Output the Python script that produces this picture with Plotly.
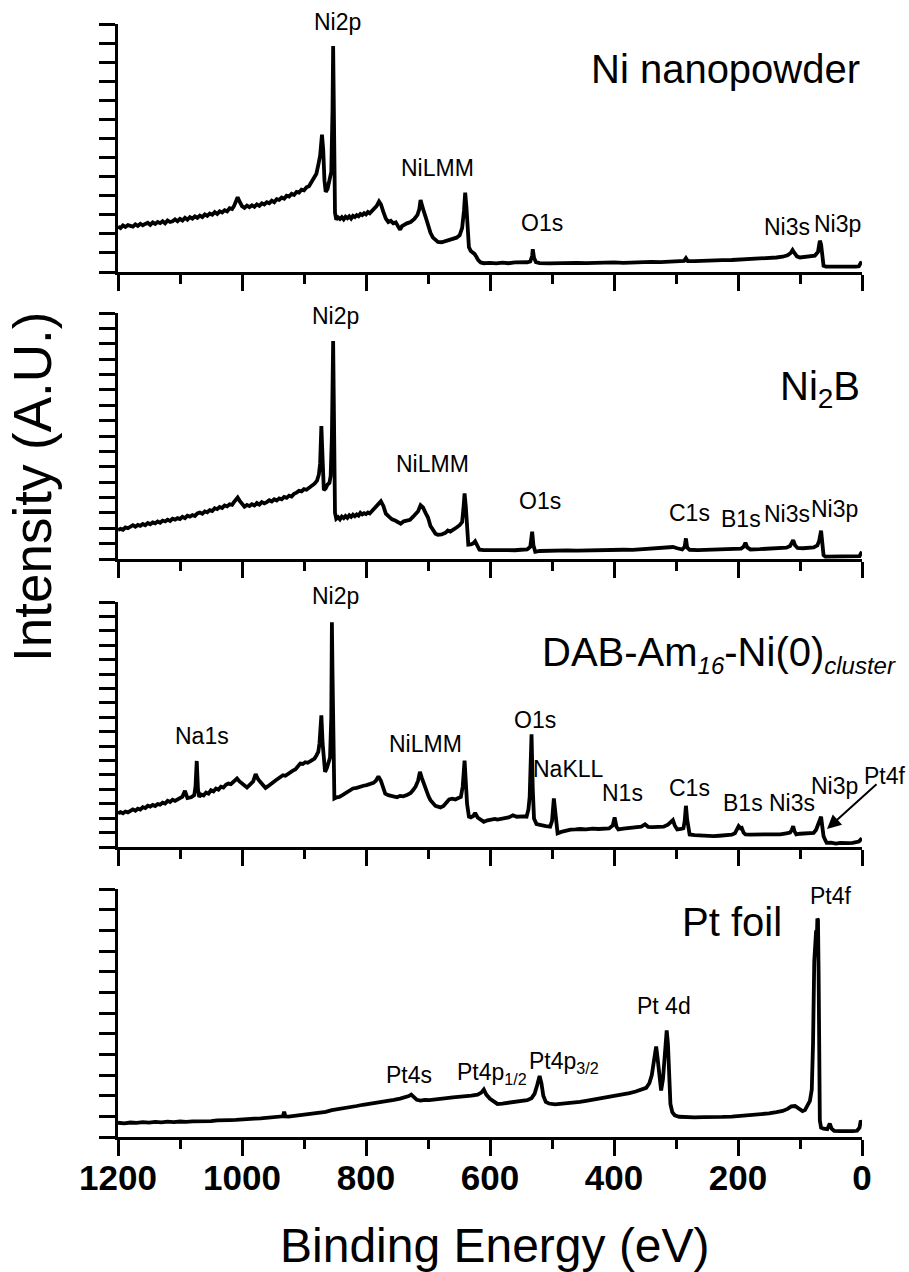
import plotly.graph_objects as go

W, H = 909, 1272
FONT = "Liberation Sans, Arial, sans-serif"

# XPS survey spectra: (binding energy in eV, intensity in arbitrary units)
ni_nanopowder = [
    (1200, 2.38), (1196, 2.30), (1192, 2.44), (1188, 2.36), (1184, 2.46), (1180, 2.40),
    (1176, 2.38), (1172, 2.50), (1168, 2.42), (1164, 2.53), (1160, 2.45), (1156, 2.52),
    (1152, 2.58), (1148, 2.47), (1144, 2.60), (1140, 2.52), (1136, 2.62), (1132, 2.56),
    (1128, 2.66), (1124, 2.55), (1120, 2.70), (1116, 2.62), (1112, 2.66), (1108, 2.76),
    (1104, 2.66), (1100, 2.78), (1096, 2.70), (1092, 2.84), (1088, 2.74), (1084, 2.88),
    (1080, 2.80), (1076, 2.92), (1072, 2.84), (1068, 2.96), (1064, 2.88), (1060, 3.02),
    (1056, 2.94), (1052, 3.06), (1048, 3.00), (1044, 3.14), (1040, 3.04), (1036, 3.18),
    (1032, 3.12), (1028, 3.24), (1024, 3.18), (1020, 3.34), (1016, 3.30), (1013, 3.45),
    (1010, 3.65), (1007, 3.92), (1004, 3.70), (1000, 3.45), (996, 3.36), (992, 3.48),
    (988, 3.40), (984, 3.50), (980, 3.42), (976, 3.55), (972, 3.47), (968, 3.60),
    (964, 3.54), (960, 3.66), (956, 3.60), (952, 3.74), (948, 3.66), (944, 3.82),
    (940, 3.78), (936, 3.90), (932, 3.84), (928, 4.00), (924, 3.96), (920, 4.10),
    (916, 4.04), (912, 4.20), (908, 4.16), (904, 4.32), (900, 4.28), (896, 4.44),
    (892, 4.50), (888, 4.70), (884, 4.90), (880, 5.15), (877, 5.60), (874, 6.10),
    (871, 7.20), (869, 6.40), (867, 4.80), (865, 4.20), (862, 4.35), (859, 4.95),
    (856, 5.25), (854, 8.50), (853, 11.85), (852, 9.00), (851, 5.00), (850, 3.10),
    (848, 2.75), (845, 2.86), (842, 2.78), (839, 2.88), (836, 2.76), (833, 2.90),
    (830, 2.82), (827, 2.92), (824, 2.80), (821, 2.94), (818, 2.88), (815, 2.98),
    (812, 2.92), (809, 3.04), (806, 2.98), (803, 3.08), (800, 3.02), (797, 3.14),
    (794, 3.08), (791, 3.20), (788, 3.25), (785, 3.38), (783, 3.45), (779, 3.70),
    (776, 3.55), (772, 3.15), (768, 2.80), (764, 2.62), (760, 2.68), (756, 2.55),
    (752, 2.60), (748, 2.38), (745, 2.22), (742, 2.40), (738, 2.50), (734, 2.55),
    (728, 2.62), (722, 2.78), (717, 3.00), (714, 3.30), (712, 3.78), (710, 3.45),
    (707, 3.20), (704, 2.90), (700, 2.40), (696, 2.05), (692, 1.80), (688, 1.66),
    (684, 1.58), (678, 1.56), (672, 1.62), (666, 1.66), (660, 1.72), (654, 1.80),
    (649, 1.92), (645, 2.30), (642, 3.20), (640, 4.16), (638, 3.40), (636, 2.20),
    (634, 1.30), (631, 1.10), (628, 1.05), (625, 0.95), (622, 0.80), (619, 0.62),
    (615, 0.50), (610, 0.46), (600, 0.48), (590, 0.45), (580, 0.49), (570, 0.46),
    (560, 0.50), (550, 0.48), (540, 0.51), (535, 0.55), (532, 0.85), (531, 1.19),
    (529, 0.75), (526, 0.52), (520, 0.47), (505, 0.45), (490, 0.47), (475, 0.45),
    (460, 0.48), (445, 0.46), (430, 0.49), (415, 0.47), (400, 0.50), (385, 0.48),
    (370, 0.51), (355, 0.50), (340, 0.53), (325, 0.52), (310, 0.55), (295, 0.54),
    (287, 0.58), (284, 0.72), (281, 0.57), (270, 0.57), (255, 0.60), (240, 0.59),
    (225, 0.62), (210, 0.63), (195, 0.65), (180, 0.67), (165, 0.70), (150, 0.72),
    (138, 0.76), (128, 0.80), (120, 0.88), (115, 1.00), (112, 1.15), (109, 1.00),
    (105, 0.82), (100, 0.76), (92, 0.78), (84, 0.80), (76, 0.86), (71, 1.05),
    (68, 1.64), (66, 1.45), (64, 0.70), (62, 0.32), (58, 0.28), (50, 0.27),
    (40, 0.28), (30, 0.27), (20, 0.28), (10, 0.28), (5, 0.30), (2, 0.48), (0, 0.50),
]

ni2b = [
    (1200, 1.88), (1196, 1.96), (1192, 1.90), (1188, 2.06), (1184, 2.00), (1180, 2.14),
    (1176, 2.20), (1172, 2.10), (1168, 2.22), (1164, 2.16), (1160, 2.28), (1156, 2.20),
    (1152, 2.34), (1148, 2.26), (1144, 2.38), (1140, 2.32), (1136, 2.44), (1132, 2.36),
    (1128, 2.50), (1124, 2.44), (1120, 2.56), (1116, 2.48), (1112, 2.62), (1108, 2.56),
    (1104, 2.66), (1100, 2.60), (1096, 2.74), (1092, 2.66), (1088, 2.82), (1084, 2.76),
    (1080, 2.86), (1076, 2.80), (1072, 2.96), (1068, 3.02), (1064, 2.94), (1060, 3.10),
    (1056, 3.04), (1052, 3.18), (1048, 3.12), (1044, 3.30), (1040, 3.24), (1036, 3.38),
    (1032, 3.32), (1028, 3.48), (1024, 3.42), (1020, 3.56), (1016, 3.52), (1013, 3.70),
    (1010, 3.85), (1007, 4.00), (1004, 3.80), (1000, 3.55), (996, 3.40), (992, 3.52),
    (988, 3.44), (984, 3.56), (980, 3.48), (976, 3.64), (972, 3.54), (968, 3.70),
    (964, 3.62), (960, 3.70), (956, 3.82), (952, 3.74), (948, 3.88), (944, 3.80),
    (940, 3.94), (936, 3.88), (932, 4.04), (928, 3.98), (924, 4.12), (920, 4.06),
    (916, 4.24), (912, 4.32), (908, 4.44), (904, 4.40), (900, 4.54), (896, 4.50),
    (892, 4.62), (888, 4.75), (883, 4.90), (879, 5.10), (876, 5.50), (874, 6.20),
    (872, 8.64), (870, 6.50), (868, 4.48), (865, 4.60), (862, 4.85), (859, 4.95),
    (857, 5.40), (855, 8.00), (853, 14.18), (852, 10.50), (851, 6.00), (850, 3.00),
    (848, 2.62), (845, 2.72), (842, 2.58), (839, 2.76), (836, 2.66), (833, 2.80),
    (830, 2.68), (827, 2.84), (824, 2.74), (821, 2.88), (818, 2.78), (815, 2.90),
    (812, 2.82), (809, 3.00), (806, 2.90), (803, 2.98), (800, 2.92), (797, 3.02),
    (794, 2.96), (790, 3.15), (785, 3.40), (780, 3.60), (776, 3.75), (772, 3.45),
    (768, 2.95), (763, 2.75), (758, 2.58), (753, 2.50), (748, 2.38), (744, 2.30),
    (739, 2.45), (734, 2.52), (729, 2.55), (724, 2.75), (720, 2.90), (716, 3.10),
    (712, 3.50), (708, 3.35), (704, 3.00), (700, 2.70), (696, 2.15), (692, 1.85),
    (688, 1.65), (684, 1.58), (678, 1.60), (672, 1.70), (668, 1.85), (664, 1.78),
    (659, 1.95), (654, 2.05), (649, 2.20), (645, 2.40), (643, 3.20), (641, 4.26),
    (639, 3.40), (637, 2.00), (635, 0.93), (631, 0.95), (627, 1.02), (624, 1.15),
    (621, 0.85), (617, 0.60), (610, 0.58), (600, 0.57), (590, 0.59), (580, 0.56),
    (570, 0.58), (560, 0.57), (550, 0.60), (540, 0.62), (535, 0.80), (532, 1.77),
    (530, 0.90), (527, 0.47), (520, 0.52), (505, 0.55), (490, 0.53), (475, 0.56),
    (460, 0.55), (445, 0.57), (430, 0.56), (415, 0.59), (400, 0.58), (385, 0.60),
    (370, 0.59), (355, 0.63), (340, 0.65), (325, 0.68), (312, 0.72), (305, 0.78),
    (298, 0.70), (290, 0.62), (286, 0.80), (284, 1.34), (282, 0.75), (278, 0.60),
    (265, 0.58), (250, 0.60), (235, 0.59), (220, 0.62), (205, 0.63), (195, 0.68),
    (191, 0.80), (188, 1.06), (185, 0.75), (180, 0.62), (165, 0.64), (150, 0.66),
    (135, 0.69), (122, 0.74), (116, 0.85), (111, 1.23), (108, 0.90), (104, 0.72),
    (95, 0.70), (85, 0.72), (78, 0.75), (72, 0.88), (69, 1.20), (66, 1.84),
    (64, 1.20), (62, 0.25), (59, 0.15), (50, 0.15), (40, 0.16), (30, 0.15),
    (20, 0.16), (10, 0.16), (4, 0.18), (2, 0.35), (0, 0.47),
]

dab_am16_ni = [
    (1200, 2.33), (1196, 2.42), (1192, 2.34), (1188, 2.46), (1184, 2.40), (1180, 2.54),
    (1176, 2.61), (1172, 2.52), (1168, 2.66), (1164, 2.60), (1160, 2.76), (1156, 2.70),
    (1152, 2.86), (1148, 2.80), (1144, 2.92), (1140, 2.84), (1136, 2.98), (1132, 2.94),
    (1128, 3.08), (1124, 3.02), (1120, 3.20), (1116, 3.12), (1112, 3.28), (1108, 3.20),
    (1104, 3.30), (1100, 3.37), (1096, 3.50), (1092, 3.90), (1088, 3.40), (1082, 3.45),
    (1077, 3.60), (1075, 4.20), (1073, 5.97), (1071, 4.00), (1069, 3.48), (1066, 3.64),
    (1062, 3.58), (1058, 3.78), (1054, 3.70), (1050, 3.94), (1046, 3.86), (1042, 4.06),
    (1038, 3.98), (1034, 4.18), (1030, 4.12), (1026, 4.32), (1022, 4.40), (1018, 4.36),
    (1014, 4.52), (1011, 4.60), (1008, 4.75), (1004, 4.55), (1000, 4.40), (996, 4.22),
    (992, 4.13), (988, 4.30), (985, 4.40), (982, 4.55), (978, 5.06), (974, 4.70),
    (970, 4.50), (966, 4.34), (962, 4.10), (958, 4.22), (954, 4.38), (950, 4.50),
    (946, 4.62), (942, 4.74), (938, 4.86), (934, 4.98), (930, 4.94), (926, 5.08),
    (922, 5.15), (918, 5.30), (914, 5.38), (910, 5.55), (906, 5.79), (902, 5.76),
    (898, 5.88), (894, 5.84), (890, 5.98), (886, 6.04), (883, 6.14), (880, 6.35),
    (877, 6.60), (875, 7.20), (872, 9.13), (870, 7.20), (868, 5.80), (866, 5.21),
    (863, 5.50), (860, 5.95), (858, 6.20), (856, 9.00), (855, 15.60), (854, 12.00),
    (853, 7.00), (852, 4.50), (851, 3.37), (847, 3.45), (843, 3.48), (838, 3.60),
    (832, 3.78), (826, 3.90), (821, 4.06), (815, 4.10), (810, 4.20), (804, 4.25),
    (799, 4.29), (794, 4.35), (788, 4.45), (784, 4.60), (780, 4.90), (776, 4.60),
    (772, 4.10), (769, 3.70), (764, 3.60), (760, 3.55), (756, 3.50), (750, 3.45),
    (745, 3.55), (740, 3.52), (734, 3.60), (728, 3.75), (724, 3.95), (720, 4.20),
    (716, 4.60), (713, 5.21), (710, 4.80), (707, 4.40), (703, 3.90), (699, 3.50),
    (696, 3.25), (692, 3.00), (688, 2.85), (684, 2.80), (680, 2.75), (675, 2.85),
    (670, 3.05), (666, 3.30), (661, 3.35), (656, 3.30), (651, 3.40), (647, 3.48),
    (644, 4.20), (641, 6.00), (639, 4.50), (637, 3.00), (634, 2.10), (631, 2.05),
    (627, 2.15), (624, 2.37), (620, 2.05), (616, 1.90), (610, 1.75), (604, 1.85),
    (598, 1.90), (592, 1.95), (588, 1.90), (582, 1.98), (576, 2.00), (570, 2.05),
    (563, 2.20), (557, 2.10), (550, 2.15), (545, 2.12), (541, 2.10), (538, 2.60),
    (536, 3.50), (533, 7.82), (531, 4.00), (529, 1.98), (525, 1.59), (518, 1.50),
    (510, 1.45), (503, 1.41), (500, 1.80), (497, 3.37), (494, 2.00), (491, 0.95),
    (485, 1.05), (478, 1.15), (470, 1.20), (462, 1.22), (455, 1.25), (445, 1.22),
    (435, 1.28), (425, 1.25), (415, 1.30), (408, 1.29), (402, 1.50), (399, 2.05),
    (396, 1.40), (393, 1.22), (385, 1.28), (375, 1.32), (368, 1.35), (363, 1.36),
    (356, 1.42), (350, 1.57), (345, 1.40), (338, 1.38), (330, 1.40), (320, 1.41),
    (313, 1.55), (308, 1.70), (305, 1.87), (302, 1.50), (298, 1.22), (292, 1.25),
    (288, 1.30), (286, 1.80), (284, 2.86), (282, 1.90), (280, 1.10), (278, 0.87),
    (270, 0.82), (260, 0.78), (250, 0.80), (240, 0.75), (230, 0.78), (220, 0.80),
    (210, 0.85), (205, 0.95), (201, 1.25), (199, 1.45), (196, 1.30), (194, 1.33),
    (191, 1.00), (188, 0.88), (180, 0.86), (170, 0.88), (160, 0.85), (150, 0.88),
    (140, 0.87), (132, 0.87), (122, 0.95), (116, 1.00), (113, 1.20), (111, 1.45),
    (109, 1.10), (106, 0.87), (100, 0.92), (92, 0.95), (85, 0.96), (78, 0.98),
    (74, 1.20), (70, 1.68), (66, 2.10), (64, 1.40), (62, 0.75), (59, 0.45),
    (57, 0.29), (50, 0.30), (42, 0.24), (35, 0.28), (28, 0.24), (22, 0.27),
    (15, 0.28), (10, 0.33), (5, 0.38), (2, 0.52), (0, 0.59),
]

pt_foil = [
    (1200, 0.69), (1190, 0.66), (1180, 0.70), (1170, 0.68), (1160, 0.72), (1150, 0.70),
    (1140, 0.73), (1130, 0.71), (1120, 0.74), (1110, 0.72), (1100, 0.75), (1090, 0.73),
    (1080, 0.76), (1070, 0.75), (1060, 0.78), (1050, 0.77), (1040, 0.80), (1030, 0.79),
    (1020, 0.82), (1010, 0.83), (1000, 0.86), (990, 0.86), (980, 0.89), (970, 0.90),
    (960, 0.93), (950, 0.94), (940, 0.97), (934, 1.00), (932, 1.22), (930, 1.00),
    (925, 0.99), (915, 1.03), (905, 1.06), (895, 1.09), (885, 1.12), (875, 1.18),
    (865, 1.22), (855, 1.30), (845, 1.34), (835, 1.40), (825, 1.45), (815, 1.50),
    (805, 1.56), (795, 1.60), (785, 1.66), (775, 1.70), (765, 1.74), (755, 1.80),
    (745, 1.86), (738, 1.90), (731, 1.98), (727, 2.05), (723, 1.96), (718, 1.80),
    (712, 1.76), (705, 1.80), (698, 1.78), (690, 1.82), (680, 1.85), (670, 1.88),
    (660, 1.92), (650, 1.94), (640, 1.98), (630, 2.00), (620, 2.05), (614, 2.15),
    (610, 2.30), (606, 2.05), (600, 1.85), (594, 1.70), (588, 1.60), (580, 1.62),
    (570, 1.65), (560, 1.68), (550, 1.72), (540, 1.78), (533, 1.88), (528, 2.10),
    (524, 2.50), (520, 2.95), (517, 2.60), (514, 2.00), (510, 1.70), (505, 1.62),
    (495, 1.58), (485, 1.60), (475, 1.62), (465, 1.66), (455, 1.70), (445, 1.75),
    (435, 1.80), (425, 1.86), (415, 1.92), (405, 1.96), (395, 2.02), (385, 2.06),
    (375, 2.12), (365, 2.20), (355, 2.28), (348, 2.38), (343, 2.60), (339, 3.00),
    (335, 3.80), (332, 4.38), (330, 3.90), (327, 2.80), (324, 2.25), (321, 2.80),
    (318, 4.20), (315, 5.16), (313, 4.50), (311, 2.80), (309, 1.60), (306, 1.20),
    (302, 1.05), (295, 0.98), (285, 0.96), (270, 0.95), (255, 0.96), (240, 0.95),
    (225, 0.97), (210, 0.99), (195, 1.02), (180, 1.05), (165, 1.10), (150, 1.14),
    (138, 1.20), (128, 1.26), (120, 1.36), (114, 1.48), (108, 1.50), (102, 1.40),
    (96, 1.25), (92, 1.30), (88, 1.50), (84, 1.75), (81, 2.30), (79, 4.50),
    (77, 8.50), (75, 9.70), (74, 10.00), (73, 9.40), (72, 10.57), (71, 10.50),
    (70, 8.00), (69, 3.00), (68, 0.80), (66, 0.45), (62, 0.40), (56, 0.38),
    (52, 0.65), (49, 0.40), (45, 0.30), (35, 0.28), (25, 0.27), (15, 0.28),
    (8, 0.30), (4, 0.45), (2, 0.80), (0, 0.65),
]

x_ticks = [1200, 1000, 800, 600, 400, 200, 0]
x_tick_text = ["1200", "1000", "800", "600", "400", "200", "0"]

# panel stacking, top to bottom: spectrum, number of y tick intervals, pixel top/bottom
panels = [
    (ni_nanopowder, 13, 24, 272),
    (ni2b, 16, 313, 559),
    (dab_am16_ni, 17, 602, 847),
    (pt_foil, 12, 889, 1137),
]
X_LEFT, X_RIGHT = 118, 862


def px_x(x):
    return x / W


def px_y(y):
    return 1 - y / H


fig = go.Figure()
layout = {}
for k, (spec, ymax, top, bottom) in enumerate(panels, start=1):
    sx = "" if k == 1 else str(k)
    be = [p[0] for p in spec]
    inten = [p[1] for p in spec]
    fig.add_trace(go.Scatter(
        x=be, y=inten, mode="lines",
        line=dict(color="black", width=3.8),
        xaxis="x" + sx, yaxis="y" + sx,
        showlegend=False, hoverinfo="skip",
    ))
    layout["xaxis" + sx] = dict(
        domain=[px_x(X_LEFT), px_x(X_RIGHT)], anchor="y" + sx,
        range=[1200, 0], showline=True, linewidth=3, linecolor="black",
        ticks="outside", ticklen=16, tickwidth=3, tickcolor="black",
        tickmode="array", tickvals=x_ticks, ticktext=x_tick_text,
        minor=dict(dtick=100, tick0=0, ticks="outside", ticklen=9,
                   tickwidth=3, tickcolor="black"),
        showgrid=False, zeroline=False, showticklabels=(k == 4),
        ticklabelstandoff=-8, automargin=False,
        tickfont=dict(family=FONT, size=35, color="black", weight="bold"),
    )
    layout["yaxis" + sx] = dict(
        domain=[px_y(bottom), px_y(top)], anchor="x" + sx,
        range=[0, ymax], showline=True, linewidth=3, linecolor="black",
        ticks="outside", ticklen=16, tickwidth=3, tickcolor="black",
        dtick=1, tick0=0, showticklabels=False, automargin=False,
        showgrid=False, zeroline=False,
    )

annotations = []


def label(text, x, y, size=23, xanchor="center"):
    annotations.append(dict(
        text=text, x=px_x(x), y=px_y(y), xref="paper", yref="paper",
        xanchor=xanchor, yanchor="middle", showarrow=False,
        font=dict(family=FONT, size=size, color="black"),
    ))


SMALL = '<span style="font-size:24px">{}</span>'

# sample names
label("Ni nanopowder", 862, 69, size=40, xanchor="right")
label("Ni<sub>2</sub>B", 778, 389, size=40, xanchor="left")
label("DAB-Am<sub><i>" + SMALL.format("16") + "</i></sub>-Ni(0)<sub><i>"
      + SMALL.format("cluster") + "</i></sub>", 540, 654, size=40, xanchor="left")
label("Pt foil", 732, 922, size=40)

# peak assignments
label("Ni2p", 337, 22)
label("NiLMM", 437, 168)
label("O1s", 542, 223)
label("Ni3s", 787, 227)
label("Ni3p", 837, 224)

label("Ni2p", 335, 316)
label("NiLMM", 432, 464)
label("O1s", 540, 501)
label("C1s", 689, 513)
label("B1s", 741, 519)
label("Ni3s", 787, 514)
label("Ni3p", 834, 509)

label("Ni2p", 335, 596)
label("Na1s", 202, 736)
label("NiLMM", 425, 744)
label("O1s", 535, 720)
label("NaKLL", 568, 769)
label("N1s", 622, 793)
label("C1s", 689, 788)
label("B1s", 743, 803)
label("Ni3s", 792, 803)
label("Ni3p", 834, 786)
label("Pt4f", 908, 776, xanchor="right")

label("Pt4s", 409, 1075)
label("Pt4p<sub>1/2</sub>", 455, 1073, xanchor="left")
label("Pt4p<sub>3/2</sub>", 527, 1062, xanchor="left")
label("Pt 4d", 664, 1006)
label("Pt4f", 831, 896)

# arrow pointing at the weak Pt4f signal of the cluster sample
annotations.append(dict(
    text="", x=px_x(827), y=px_y(829), xref="paper", yref="paper",
    ax=51, ay=-46, axref="pixel", ayref="pixel",
    showarrow=True, arrowhead=2, arrowsize=1.4, arrowwidth=2,
    arrowcolor="black",
))

# axis titles
label("Binding Energy (eV)", 495, 1245, size=48)
annotations.append(dict(
    text="Intensity (A.U.)", x=px_x(33), y=px_y(487), xref="paper", yref="paper",
    xanchor="center", yanchor="middle", textangle=-90, showarrow=False,
    font=dict(family=FONT, size=53, color="black"),
))

fig.update_layout(
    **layout,
    annotations=annotations,
    width=W, height=H,
    margin=dict(l=0, r=0, t=0, b=0, autoexpand=False),
    paper_bgcolor="white", plot_bgcolor="white",
    showlegend=False,
)

fig.write_html("out.html", config={"displayModeBar": False})
